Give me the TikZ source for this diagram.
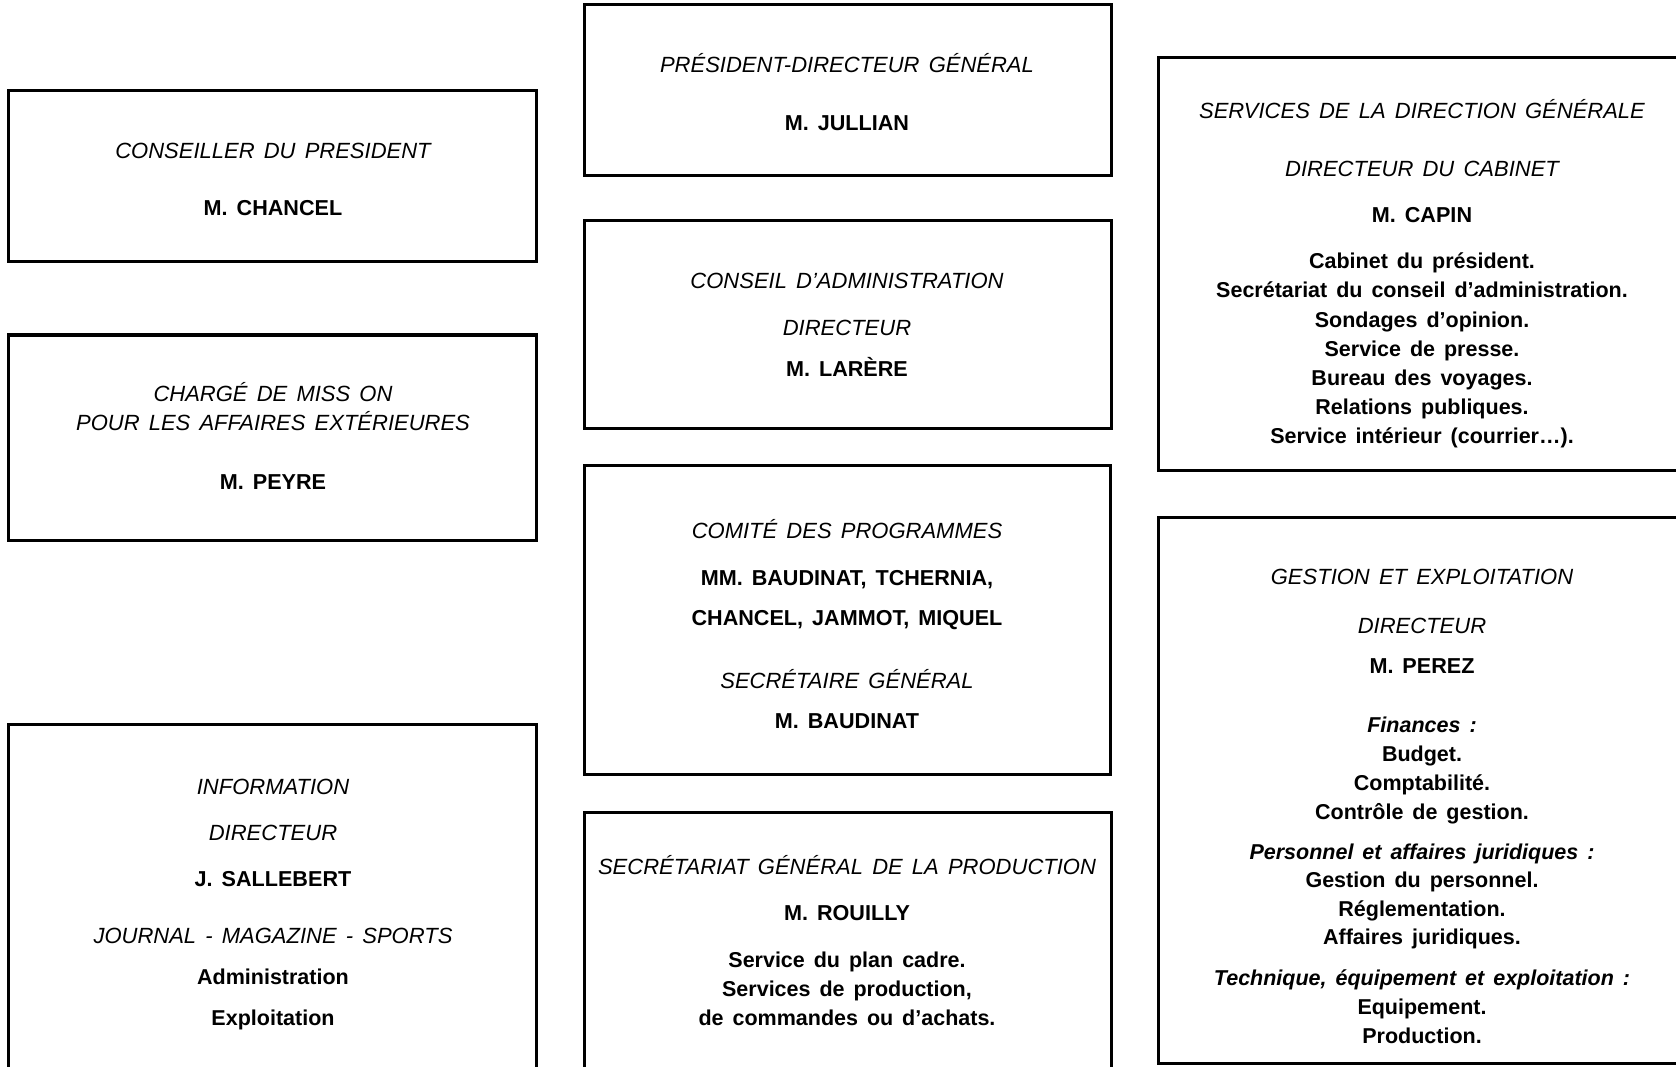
\documentclass[tikz,border=0pt]{standalone}
\usepackage{fontspec}
\setmainfont{Liberation Sans}[WordSpace=1.5]

\tikzset{
  cadre/.style={line width=3pt},
  titre/.style={font=\fontsize{22}{26}\selectfont\itshape, anchor=base},
  nom/.style={font=\fontsize{21.6}{26}\selectfont\bfseries, anchor=base},
  rubrique/.style={font=\fontsize{21.5}{26}\selectfont\bfseries\itshape, anchor=base},
  ligne/.style={font=\fontsize{21.5}{26}\selectfont\bfseries, anchor=base},
}

\begin{document}
\begin{tikzpicture}[x=1pt,y=-1pt]
  \useasboundingbox (0,0) rectangle (1676,1067);
  \clip (0,0) rectangle (1676,1067);

  % colonne de gauche
  \draw[cadre] (8,91) rectangle (536,262);
  \node[titre] (conseiller) at (273,159) {CONSEILLER DU PRESIDENT};
  \node[nom] (chancel) at (273,216) {M. CHANCEL};

  \draw[cadre] (8,335) rectangle (536,540);
  \node[titre] (mission) at (273,401) {CHARGÉ DE MISS ON};
  \node[titre] (exterieur) at (273,430) {POUR LES AFFAIRES EXTÉRIEURES};
  \node[nom] (peyre) at (273,489) {M. PEYRE};

  \draw[cadre] (8,724) rectangle (536,1090);
  \node[titre] (information) at (273,794) {INFORMATION};
  \node[titre] (infodir) at (273,840) {DIRECTEUR};
  \node[nom] (sallebert) at (273,886) {J. SALLEBERT};
  \node[titre] (journal) at (273,943) {JOURNAL - MAGAZINE - SPORTS};
  \node[ligne] (administration) at (273,984) {Administration};
  \node[ligne] (exploitation) at (273,1025) {Exploitation};

  % colonne du milieu
  \draw[cadre] (584,5) rectangle (1111,176);
  \node[titre] (pdg) at (847,73) {PRÉSIDENT-DIRECTEUR GÉNÉRAL};
  \node[nom] (jullian) at (847,131) {M. JULLIAN};

  \draw[cadre] (584,221) rectangle (1111,428);
  \node[titre] (conseil) at (847,289) {CONSEIL D'ADMINISTRATION};
  \node[titre] (conseildir) at (847,336) {DIRECTEUR};
  \node[nom] (larere) at (847,376) {M. LARÈRE};

  \draw[cadre] (584,465) rectangle (1110,774);
  \node[titre] (comite) at (847,538) {COMITÉ DES PROGRAMMES};
  \node[nom] (membres1) at (847,585) {MM. BAUDINAT, TCHERNIA,};
  \node[nom] (membres2) at (847,625) {CHANCEL, JAMMOT, MIQUEL};
  \node[titre] (secretaire) at (847,688) {SECRÉTAIRE GÉNÉRAL};
  \node[nom] (baudinat) at (847,728) {M. BAUDINAT};

  \draw[cadre] (584,812) rectangle (1111,1090);
  \node[titre] (production) at (847,874) {SECRÉTARIAT GÉNÉRAL DE LA PRODUCTION};
  \node[nom] (rouilly) at (847,920) {M. ROUILLY};
  \foreach \t [count=\i] in {Service du plan cadre., {Services de production,}, de commandes ou d'achats.}
    \node[ligne] (prod\i) at (847,{938+29*\i}) {\t};

  % colonne de droite
  \draw[cadre] (1158,58) rectangle (1690,470);
  \node[titre] (services) at (1422,119) {SERVICES DE LA DIRECTION GÉNÉRALE};
  \node[titre] (cabinet) at (1422,177) {DIRECTEUR DU CABINET};
  \node[nom] (capin) at (1422,223) {M. CAPIN};
  \foreach \t [count=\i] in {Cabinet du président., Secrétariat du conseil d'administration., Sondages d'opinion., Service de presse., Bureau des voyages., Relations publiques., {Service intérieur (courrier\ldots).}}
    \node[ligne] (cab\i) at (1422,{240+29*\i}) {\t};

  \draw[cadre] (1158,517) rectangle (1690,1063);
  \node[titre] (gestion) at (1422,584) {GESTION ET EXPLOITATION};
  \node[titre] (gestiondir) at (1422,633) {DIRECTEUR};
  \node[nom] (perez) at (1422,673) {M. PEREZ};
  \node[rubrique] (finances) at (1422,732) {Finances :};
  \foreach \t [count=\i] in {Budget., Comptabilité., Contrôle de gestion.}
    \node[ligne] (fin\i) at (1422,{732+29*\i}) {\t};
  \node[rubrique] (personnel) at (1422,859) {Personnel et affaires juridiques :};
  \foreach \t [count=\i] in {Gestion du personnel., Réglementation., Affaires juridiques.}
    \node[ligne] (pers\i) at (1422,{859+28.5*\i}) {\t};
  \node[rubrique] (technique) at (1422,985) {Technique, équipement et exploitation :};
  \foreach \t [count=\i] in {Equipement., Production.}
    \node[ligne] (tech\i) at (1422,{985+29*\i}) {\t};
\end{tikzpicture}
\end{document}
